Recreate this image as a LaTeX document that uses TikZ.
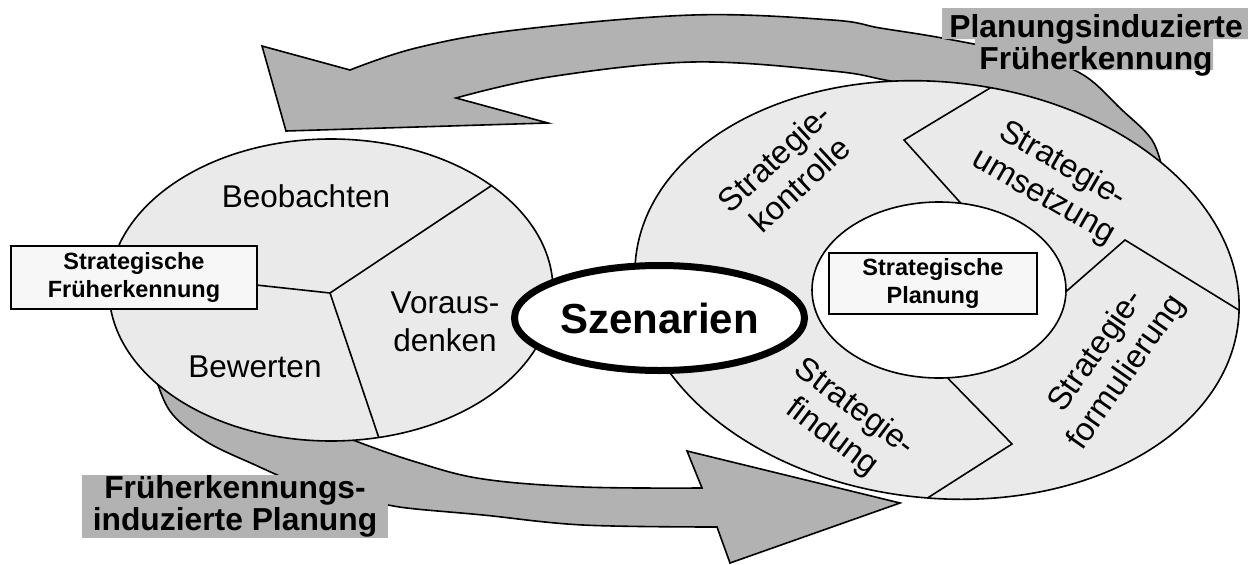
\documentclass[tikz,border=0pt]{standalone}
\usepackage{fontspec}
\setmainfont{Liberation Sans}
\usetikzlibrary{shapes.geometric}
\definecolor{arrgray}{HTML}{B2B2B2}
\definecolor{ringgray}{HTML}{EAEAEA}
\definecolor{boxfill}{HTML}{F7F7F7}
\newcommand{\routerpath}{[rotate around={-6:(937,290)}] (937,290) ellipse [x radius=303, y radius=208]}
\begin{document}
\begin{tikzpicture}[x=1pt,y=-1pt,
  arr/.style={fill=arrgray, draw=black, line width=1.6pt, line join=miter},
  ringfill/.style={fill=ringgray},
  ringline/.style={draw=black, line width=1.6pt},
  divl/.style={draw=black, line width=1.6pt, line join=miter},
  lab/.style={font=\fontsize{31.5}{37}\selectfont, align=center, inner sep=0pt},
  ringlab/.style={font=\fontsize{32.5}{37}\selectfont, align=center, inner sep=0pt},
  boxlab/.style={draw=black, line width=2pt, fill=boxfill, font=\bfseries\fontsize{23.5}{28}\selectfont, align=center, inner sep=0pt},
  biglab/.style={font=\bfseries\fontsize{31.8}{32}\selectfont, align=center, inner sep=0pt},
  szen/.style={ellipse, draw=black, line width=7pt, fill=white, inner sep=0pt, font=\bfseries\fontsize{42}{48}\selectfont}
]
\useasboundingbox (0,0) rectangle (1248,565);

% bottom arrow (Frueherkennungs-induzierte Planung)
\draw[arr] plot[smooth, tension=0.6] coordinates {(152,360) (158,385) (173,415) (207,442) (253,464) (300,484) (350,497) (388,505) (416,509) (483,515) (583,525) (717,527)} -- (730,563) -- (900,503) -- (687,451) -- (702,488) -- plot[smooth, tension=0.6] coordinates {(702,488) (583,487) (483,479) (416,462) (353,440) (320,425)} -- cycle;

% top arrow (Planungsinduzierte Frueherkennung)
\draw[arr] (456,98) -- (548,123) -- (286,131) -- (262,46) -- (350,70) -- plot[smooth, tension=0.6] coordinates {(350,70) (416,48) (516,30) (693,15) (832,20) (880,28) (942,38) (1020,54) (1080,73) (1122,110) (1152,140) (1163,172)} -- (1110,190) -- plot[smooth, tension=0.6] coordinates {(1110,190) (1060,140) (1000,110) (940,91) (885,80) (832,71) (693,62) (549,77) (456,98)} -- cycle;

% label background (top)
\fill[arrgray] (942,8) -- (1250,8) -- (1250,39) -- (1213,39) -- (1213,70) -- (975,70) -- (975,39) -- (942,39) -- cycle;

% left ellipse
\fill[ringfill] (331,290) ellipse [x radius=222, y radius=151];
\begin{scope}
  \clip (331,290) ellipse [x radius=222, y radius=151];
  \draw[divl] (330,293) -- (530,160);
  \draw[divl] (330,293) -- (90,267);
  \draw[divl] (330,293) -- (385,456);
\end{scope}
\draw[ringline] (331,290) ellipse [x radius=222, y radius=151];

% right ellipse (ring)
\fill[ringfill] \routerpath;
\begin{scope}
  \clip \routerpath;
  \draw[divl] (975,219) -- (904,140) -- (1010,76);
  \draw[divl] (1045,310) -- (1125,240) -- (1255,320);
  \draw[divl] (935,365) -- (1012,444) -- (915,506);
\end{scope}
\draw[ringline] \routerpath;
\draw[ringline, fill=white] (939,290) ellipse [x radius=127, y radius=88];

% central scenario ellipse
\node[szen, minimum width=290pt, minimum height=105pt] (szen) at (659.5,318) {Szenarien};

% boxes
\node[boxlab, minimum width=246pt, minimum height=63pt] (sfe) at (134,277.5) {Strategische\\Früherkennung};
\node[boxlab, minimum width=208pt, minimum height=61pt] (spl) at (933,283.5) {Strategische\\Planung};

% left ellipse texts
\node[lab, anchor=base] (beob) at (306,207) {Beobachten};
\node[lab, anchor=base] (bew) at (255,377) {Bewerten};
\node[lab, font=\fontsize{31.5}{38}\selectfont] (vor) at (445,322) {Voraus-\\denken};

% ring texts
\node[ringlab, rotate=43] (kon) at (787,171) {Strategie-\\kontrolle};
\node[ringlab, rotate=-30] (ums) at (1053,181) {Strategie-\\umsetzung};
\node[ringlab, rotate=55] (form) at (1112,362) {Strategie-\\formulierung};
\node[ringlab, rotate=-37] (find) at (843,423) {Strategie-\\findung};

% arrow labels
\node[biglab] (pif) at (1096,45) {Planungsinduzierte\\Früherkennung};
\node[biglab, fill=arrgray, minimum width=306pt, minimum height=63pt] (fip) at (235,506.5) {Früherkennungs-\\induzierte Planung};
\end{tikzpicture}
\end{document}
